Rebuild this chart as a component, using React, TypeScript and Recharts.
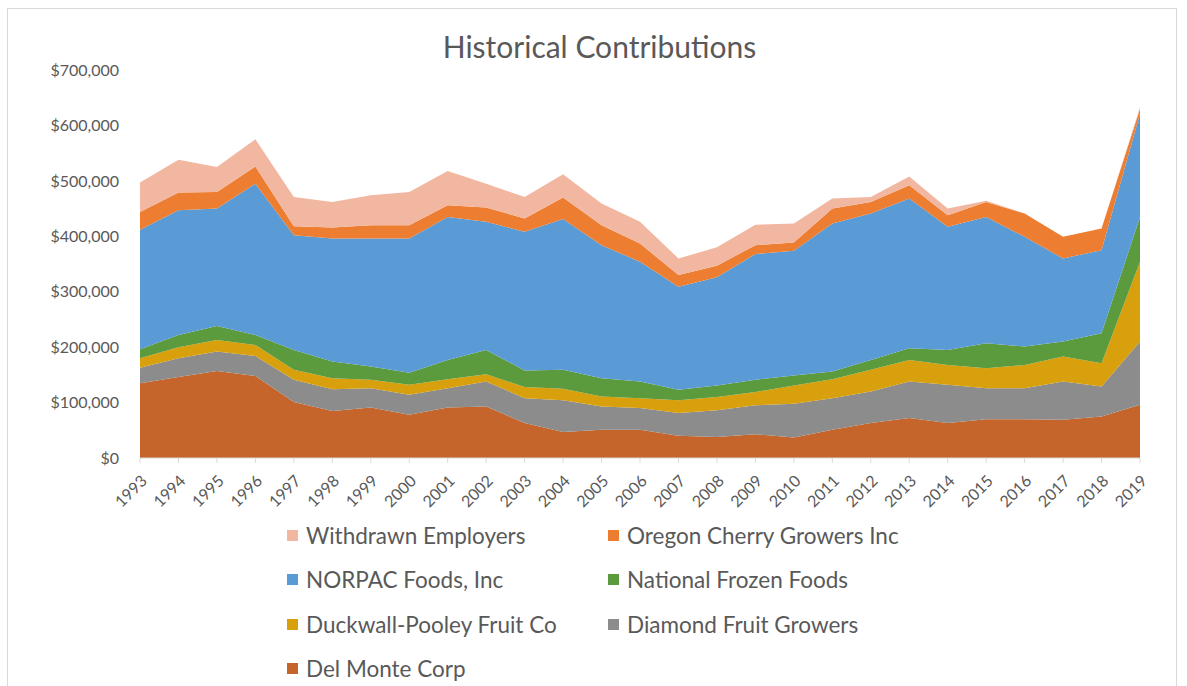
import { AreaChart, Area, XAxis, YAxis } from "recharts";

const years = [
  "1993", "1994", "1995", "1996", "1997", "1998", "1999", "2000", "2001",
  "2002", "2003", "2004", "2005", "2006", "2007", "2008", "2009", "2010",
  "2011", "2012", "2013", "2014", "2015", "2016", "2017", "2018", "2019",
];

// contributions per employer, dollars
const delMonte = [
  135000, 146000, 157000, 148000, 101000, 85000, 91000, 78000, 91000,
  93000, 63000, 47000, 51000, 51000, 40000, 38000, 43000, 37000,
  51000, 63000, 72000, 63000, 70000, 70000, 69000, 75000, 96000,
];
const diamond = [
  28000, 34000, 35000, 36000, 40000, 39000, 35000, 36000, 35000,
  45000, 45000, 57000, 42000, 39000, 41000, 48000, 52000, 61000,
  57000, 57000, 66000, 69000, 56000, 56000, 69000, 54000, 114000,
];
const duckwall = [
  17000, 20000, 21000, 20000, 18000, 20000, 15000, 18000, 16000,
  13000, 20000, 21000, 18000, 18000, 23000, 24000, 24000, 33000,
  34000, 39000, 39000, 36000, 36000, 42000, 45000, 42000, 144000,
];
const nationalFrozen = [
  16000, 22000, 25000, 18000, 36000, 30000, 24000, 22000, 35000,
  44000, 30000, 34000, 33000, 30000, 19000, 21000, 22000, 18000,
  14000, 18000, 21000, 27000, 45000, 33000, 27000, 54000, 81000,
];
const norpac = [
  216000, 225000, 212000, 273000, 207000, 222000, 231000, 242000, 258000,
  231000, 250000, 272000, 240000, 216000, 186000, 195000, 227000, 225000,
  267000, 264000, 270000, 222000, 228000, 198000, 150000, 150000, 186000,
];
const oregonCherry = [
  32000, 32000, 30000, 31000, 16000, 20000, 24000, 24000, 21000,
  26000, 24000, 39000, 36000, 33000, 21000, 21000, 16000, 15000,
  27000, 21000, 24000, 21000, 27000, 42000, 39000, 39000, 9000,
];
const withdrawn = [
  53000, 59000, 45000, 49000, 53000, 46000, 54000, 60000, 62000,
  43000, 39000, 42000, 39000, 39000, 30000, 33000, 37000, 34000,
  18000, 9000, 16000, 12000, 2000, 0, 0, 0, 3000,
];

const yTicks = [0, 100000, 200000, 300000, 400000, 500000, 600000, 700000];

// stacking order, bottom first
const series = [
  { key: "delMonte", name: "Del Monte Corp", color: "#C5652B", values: delMonte },
  { key: "diamond", name: "Diamond Fruit Growers", color: "#8C8C8C", values: diamond },
  { key: "duckwall", name: "Duckwall-Pooley Fruit Co", color: "#D7A00C", values: duckwall },
  { key: "nationalFrozen", name: "National Frozen Foods", color: "#5B9A3D", values: nationalFrozen },
  { key: "norpac", name: "NORPAC Foods, Inc", color: "#5B9BD5", values: norpac },
  { key: "oregonCherry", name: "Oregon Cherry Growers Inc", color: "#ED7D31", values: oregonCherry },
  { key: "withdrawn", name: "Withdrawn Employers", color: "#F2B7A0", values: withdrawn },
];

const data = years.map((year, i) => {
  const row: Record<string, string | number> = { year };
  series.forEach((s) => {
    row[s.key] = s.values[i];
  });
  return row;
});

const legendOrder = [
  "withdrawn", "oregonCherry", "norpac", "nationalFrozen", "duckwall", "diamond", "delMonte",
];

const textColor = "#595959";
const font = "Lato, 'Open Sans', sans-serif";

function formatMoney(v: number): string {
  return "$" + v.toLocaleString("en-US");
}

export default function App() {
  return (
    <div
      style={{
        position: "absolute",
        left: 0,
        top: 0,
        width: 1187,
        height: 686,
        background: "#fff",
        fontFamily: font,
        overflow: "hidden",
      }}
    >
      <div
        style={{
          position: "absolute",
          left: 7,
          top: 8,
          width: 1168,
          height: 700,
          border: "1px solid #D9D9D9",
        }}
      />
      <div
        style={{
          position: "absolute",
          left: 0,
          top: 27,
          width: 1199,
          textAlign: "center",
          fontSize: 30,
          color: textColor,
          lineHeight: "38px",
        }}
      >
        Historical Contributions
      </div>
      <div style={{ position: "absolute", left: 0, top: 0 }}>
        <AreaChart
          width={1187}
          height={686}
          data={data}
          margin={{ top: 70, right: 47, left: 40, bottom: 168 }}
          style={{ fontFamily: font }}
        >
          <XAxis
            dataKey="year"
            height={60}
            interval={0}
            angle={-45}
            textAnchor="end"
            tick={{ fontSize: 16, fill: textColor }}
            tickSize={5}
            tickMargin={11}
            axisLine={{ stroke: "#D9D9D9" }}
            tickLine={{ stroke: "#D9D9D9" }}
          />
          <YAxis
            width={100}
            domain={[0, 700000]}
            ticks={yTicks}
            tickFormatter={formatMoney}
            tick={{ fontSize: 16, fill: textColor }}
            axisLine={false}
            tickLine={false}
            tickMargin={15}
          />
          {series.map((s) => (
            <Area
              key={s.key}
              type="linear"
              dataKey={s.key}
              name={s.name}
              stackId="a"
              fill={s.color}
              fillOpacity={1}
              stroke="none"
              isAnimationActive={false}
            />
          ))}
        </AreaChart>
      </div>
      <div
        style={{
          position: "absolute",
          left: 287,
          top: 513,
          display: "grid",
          gridTemplateColumns: "321px 300px",
          rowGap: 0,
        }}
      >
        {legendOrder.map((key) => {
          const s = series.find((x) => x.key === key)!;
          return (
            <div
              key={key}
              style={{
                display: "flex",
                alignItems: "center",
                height: 44.5,
                fontSize: 22.5,
                color: textColor,
                whiteSpace: "nowrap",
              }}
            >
              <span
                style={{
                  display: "inline-block",
                  width: 11,
                  height: 11,
                  background: s.color,
                  marginRight: 8,
                }}
              />
              {s.name}
            </div>
          );
        })}
      </div>
    </div>
  );
}
